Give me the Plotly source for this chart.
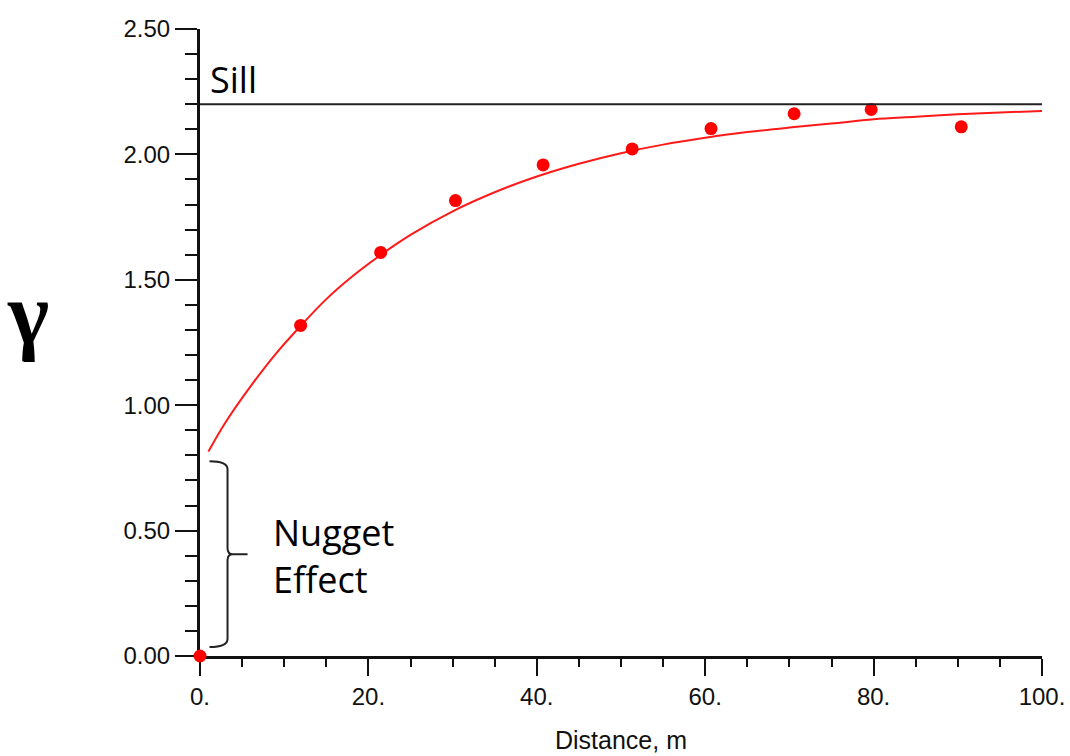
import plotly.graph_objects as go

# ---- data ----
lag_distance = [0.0, 11.95, 21.46, 30.34, 40.75, 51.33, 60.69, 70.56, 79.71, 90.41]
semivariance = [0.0, 1.318, 1.609, 1.816, 1.958, 2.022, 2.103, 2.162, 2.179, 2.110]

model_distance = [1, 3, 6, 9, 12, 15, 18, 21.5, 25, 30, 35, 40, 45, 50, 55, 60,
                  65, 70, 75, 80, 85, 90, 95, 100]
model_gamma = [0.815, 0.93, 1.075, 1.205, 1.318, 1.423, 1.511, 1.600, 1.679, 1.773,
               1.849, 1.912, 1.963, 2.005, 2.039, 2.066, 2.089, 2.107, 2.123, 2.14,
               2.15, 2.16, 2.167, 2.173]

sill = 2.2
x_ticks = [0, 20, 40, 60, 80, 100]
x_tick_labels = ["0.", "20.", "40.", "60.", "80.", "100."]

AX = "#111111"
BR = "#222222"

fig = go.Figure()

fig.add_trace(go.Scatter(
    x=model_distance, y=model_gamma, mode="lines",
    line=dict(color="#ff1a1a", width=2, shape="spline"),
    hoverinfo="skip", showlegend=False,
))
fig.add_trace(go.Scatter(
    x=lag_distance, y=semivariance, mode="markers",
    marker=dict(color="#ff0000", size=13),
    cliponaxis=False, showlegend=False,
))

# sill line
fig.add_shape(type="line", xref="x", yref="y", x0=0, x1=100, y0=sill, y1=sill,
              line=dict(color=BR, width=2))

# brace for nugget effect
brace = ("M 1.13,0.777 Q 3.27,0.777 3.27,0.745 L 3.27,0.43 "
         "Q 3.27,0.406 3.9,0.406 L 5.65,0.406 "
         "M 3.9,0.406 Q 3.27,0.406 3.27,0.382 L 3.27,0.068 "
         "Q 3.27,0.036 1.13,0.036")
fig.add_shape(type="path", xref="x", yref="y", path=brace,
              line=dict(color=BR, width=2))

fig.add_annotation(x=1.0, y=2.30, xref="x", yref="y", text="Sill",
                   showarrow=False, xanchor="left", yanchor="middle",
                   font=dict(family="Open Sans", size=36, color="#000000"))
fig.add_annotation(x=8.4, y=0.40, xref="x", yref="y", text="Nugget<br>Effect",
                   showarrow=False, xanchor="left", yanchor="middle", align="left",
                   font=dict(family="Open Sans", size=36, color="#000000"))
fig.add_annotation(x=-0.204, y=0.547, xref="paper", yref="paper", text="<b>γ</b>",
                   showarrow=False, xanchor="center", yanchor="middle",
                   font=dict(family="Liberation Serif", size=88, color="#000000"))
fig.add_annotation(x=0.5, y=-0.1346, xref="paper", yref="paper", text="Distance, m",
                   showarrow=False, xanchor="center", yanchor="middle",
                   font=dict(family="Liberation Sans", size=25, color="#111111"))

fig.update_xaxes(
    range=[0, 100], showgrid=False, zeroline=False, automargin=False,
    showline=True, linecolor=AX, linewidth=3, layer="below traces",
    tickmode="array", tickvals=x_ticks, ticktext=x_tick_labels,
    ticks="outside", ticklen=17, tickwidth=2, tickcolor=AX,
    minor=dict(dtick=5, ticks="outside", ticklen=8, tickwidth=2, tickcolor=AX),
    tickfont=dict(family="Liberation Sans", size=24, color="#111111"),
)
fig.update_yaxes(
    range=[0, 2.5], showgrid=False, zeroline=False, automargin=False,
    showline=True, linecolor=AX, linewidth=3, layer="below traces",
    dtick=0.5, tick0=0, tickformat=".2f",
    ticks="outside", ticklen=22, tickwidth=2, tickcolor=AX,
    minor=dict(dtick=0.1, ticks="outside", ticklen=12, tickwidth=2, tickcolor=AX),
    tickfont=dict(family="Liberation Sans", size=24, color="#111111"),
)

fig.update_layout(
    width=1070, height=756,
    margin=dict(l=200, r=28, t=29, b=100),
    paper_bgcolor="white", plot_bgcolor="white",
    showlegend=False,
)

fig.write_html("out.html")
